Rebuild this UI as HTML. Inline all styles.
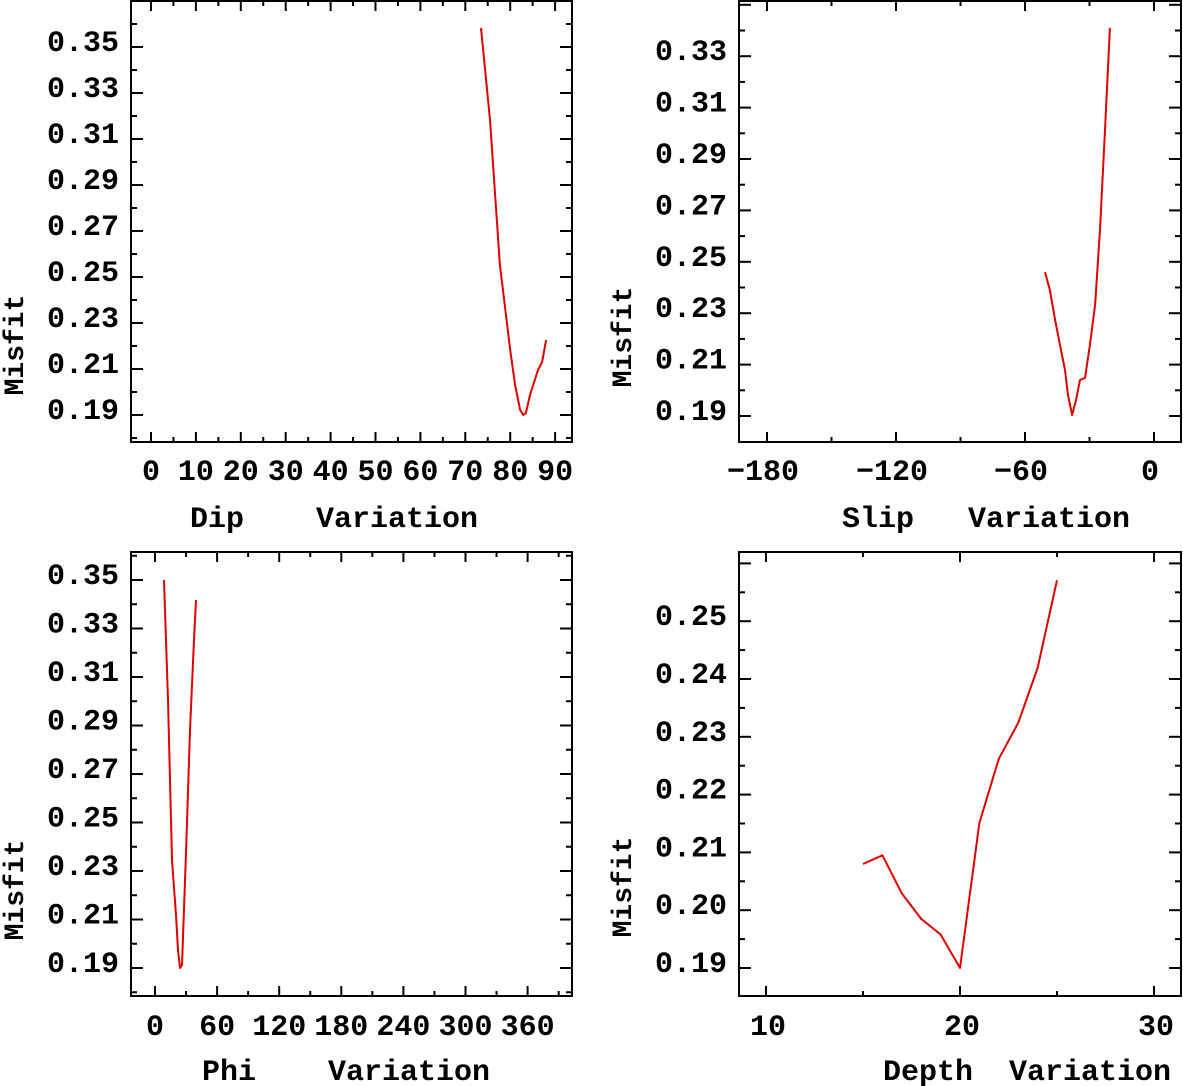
<!DOCTYPE html>
<html><head><meta charset="utf-8"><style>
html,body{margin:0;padding:0;background:#fff;}
svg{display:block;}
text{font-family:"Liberation Mono",monospace;font-weight:bold;fill:#000;white-space:pre;}
</style></head><body>
<svg id="chart" width="1183" height="1086" viewBox="0 0 1183 1086" xmlns="http://www.w3.org/2000/svg"></svg>
<script>
// Dip panel
const dipX = [73.5,75.5,77.7,78.8,80.0,81.1,82.2,82.9,83.5,84.4,86.2,87.1,88.0];
const dipY = [0.3583,0.3183,0.2552,0.2378,0.2183,0.2030,0.1922,0.1900,0.1909,0.1987,0.2096,0.2130,0.2226];
const dipXTicks = [0,10,20,30,40,50,60,70,80,90];
const dipYTicks = [0.19,0.21,0.23,0.25,0.27,0.29,0.31,0.33,0.35];
// Slip panel
const slipX = [-50.7,-48.4,-46,-43.7,-41.4,-40,-38.1,-36.3,-34.4,-32.1,-29.8,-27.4,-25.1,-22.8,-20.5];
const slipY = [0.2460,0.2390,0.2274,0.2176,0.2079,0.1982,0.1904,0.1962,0.2040,0.2048,0.2176,0.2332,0.2624,0.3013,0.3410];
const slipXTicks = [-180,-120,-60,0];
const slipYTicks = [0.19,0.21,0.23,0.25,0.27,0.29,0.31,0.33];
// Phi panel
const phiX = [8.7,12.6,16.4,20.3,22.2,24.2,26.1,30,33.8,37.7,39.6];
const phiY = [0.35,0.3005,0.2345,0.2119,0.1974,0.19,0.1912,0.2387,0.2881,0.3253,0.3417];
const phiXTicks = [0,60,120,180,240,300,360];
const phiYTicks = [0.19,0.21,0.23,0.25,0.27,0.29,0.31,0.33,0.35];
// Depth panel
const depthX = [15,16,17,18,19,20,21,22,23,24,25];
const depthY = [0.2080,0.2095,0.2029,0.1985,0.1958,0.19,0.2151,0.2262,0.2324,0.2419,0.2571];
const depthXTicks = [10,20,30];
const depthYTicks = [0.19,0.20,0.21,0.22,0.23,0.24,0.25];

const NS="http://www.w3.org/2000/svg";
const svg=document.getElementById('chart');
function mk(tag,attrs,parent){const e=document.createElementNS(NS,tag);for(const k in attrs)e.setAttribute(k,attrs[k]);(parent||svg).appendChild(e);return e;}

function panel(cfg){
  const g=mk('g',{});
  
  
  const {L,R,T,B}=cfg;
  const sx=v=>cfg.x0+(v-cfg.xv0)*cfg.xs;
  const sy=v=>cfg.y0-(v-cfg.yv0)*cfg.ys;
  const box=mk('rect',{x:L,y:T,width:R-L,height:B-T,fill:'none',stroke:'#000','stroke-width':2},g);
  
  
  const xs=cfg.xTicks;
  const step=xs[1]-xs[0];
  for(let v=xs[0]-step;v<=xs[xs.length-1]+step;v+=cfg.xMinor){
    const x=sx(v); if(x<=L+1||x>=R-1)continue;
    const major=Math.abs(((v-xs[0])%step+step)%step)<1e-6;
    const len=major?10:5;
    mk('line',{x1:x,y1:B,x2:x,y2:B-len,stroke:'#000','stroke-width':2},g);
    mk('line',{x1:x,y1:T,x2:x,y2:T+len,stroke:'#000','stroke-width':2},g);
  }
  xs.forEach(v=>{
    const t=mk('text',{x:sx(v)+cfg.xLabelDx,y:cfg.xLabelY,'font-size':30,'text-anchor':'middle'},g);
    t.textContent=(v<0?'\u2212'+(-v):String(v));
    
    
  });
  const ys=cfg.yTicks;
  const ystep=ys[1]-ys[0];
  for(let v=ys[0]-ystep;v<=ys[ys.length-1]+ystep+1e-9;v+=cfg.yMinor){
    const y=sy(v); if(y<=T+1||y>=B-1)continue;
    const major=Math.abs(Math.round((v-ys[0])/ystep)*ystep-(v-ys[0]))<1e-6;
    const len=major?12:6;
    mk('line',{x1:L,y1:y,x2:L+len,y2:y,stroke:'#000','stroke-width':2},g);
    mk('line',{x1:R,y1:y,x2:R-len,y2:y,stroke:'#000','stroke-width':2},g);
  }
  ys.forEach(v=>{
    const t=mk('text',{x:L-12,y:sy(v)+4,'font-size':30,'text-anchor':'end'},g);
    t.textContent=v.toFixed(2);
    
    
  });
  const xt=mk('text',{x:cfg.titleX,y:cfg.titleY,'font-size':30,'text-anchor':'middle'},g);
  xt.textContent=cfg.title;
  
  
  const yt=mk('text',{x:0,y:0,'font-size':28,'text-anchor':'middle',transform:`translate(${L-108},${cfg.misfitY}) rotate(-90)`},g);
  yt.textContent='Misfit';
  
  
  const pts=cfg.xd.map((v,i)=>sx(v).toFixed(1)+','+sy(cfg.yd[i]).toFixed(1)).join(' ');
  const pl=mk('polyline',{points:pts,fill:'none',stroke:'#e00000','stroke-width':2,'stroke-linejoin':'round'},g);
  
  
}

panel({name:'dip',L:131,R:572,T:1,B:442,x0:151,xv0:0,xs:4.49,y0:415,yv0:0.19,ys:2300,
  xTicks:dipXTicks,xMinor:5,yTicks:dipYTicks,yMinor:0.01,xLabelDx:0,xLabelY:480,
  title:'Dip    Variation',titleX:334,titleY:527,misfitY:345,xd:dipX,yd:dipY});
panel({name:'slip',L:739,R:1181,T:1,B:442,x0:1154,xv0:0,xs:2.15,y0:416,yv0:0.19,ys:2570,
  xTicks:slipXTicks,xMinor:30,yTicks:slipYTicks,yMinor:0.01,xLabelDx:-4,xLabelY:480,
  title:'Slip   Variation',titleX:986,titleY:527,misfitY:337,xd:slipX,yd:slipY});
panel({name:'phi',L:131,R:572,T:552,B:996,x0:155,xv0:0,xs:1.035,y0:968,yv0:0.19,ys:2425,
  xTicks:phiXTicks,xMinor:30,yTicks:phiYTicks,yMinor:0.01,xLabelDx:0,xLabelY:1035,
  title:'Phi    Variation',titleX:346,titleY:1080,misfitY:890,xd:phiX,yd:phiY});
panel({name:'depth',L:739,R:1181,T:552,B:996,x0:766,xv0:10,xs:19.4,y0:968,yv0:0.19,ys:5780,
  xTicks:depthXTicks,xMinor:5,yTicks:depthYTicks,yMinor:0.005,xLabelDx:2,xLabelY:1035,
  title:'Depth  Variation',titleX:1027,titleY:1080,misfitY:887,xd:depthX,yd:depthY});
</script>
</body></html>
